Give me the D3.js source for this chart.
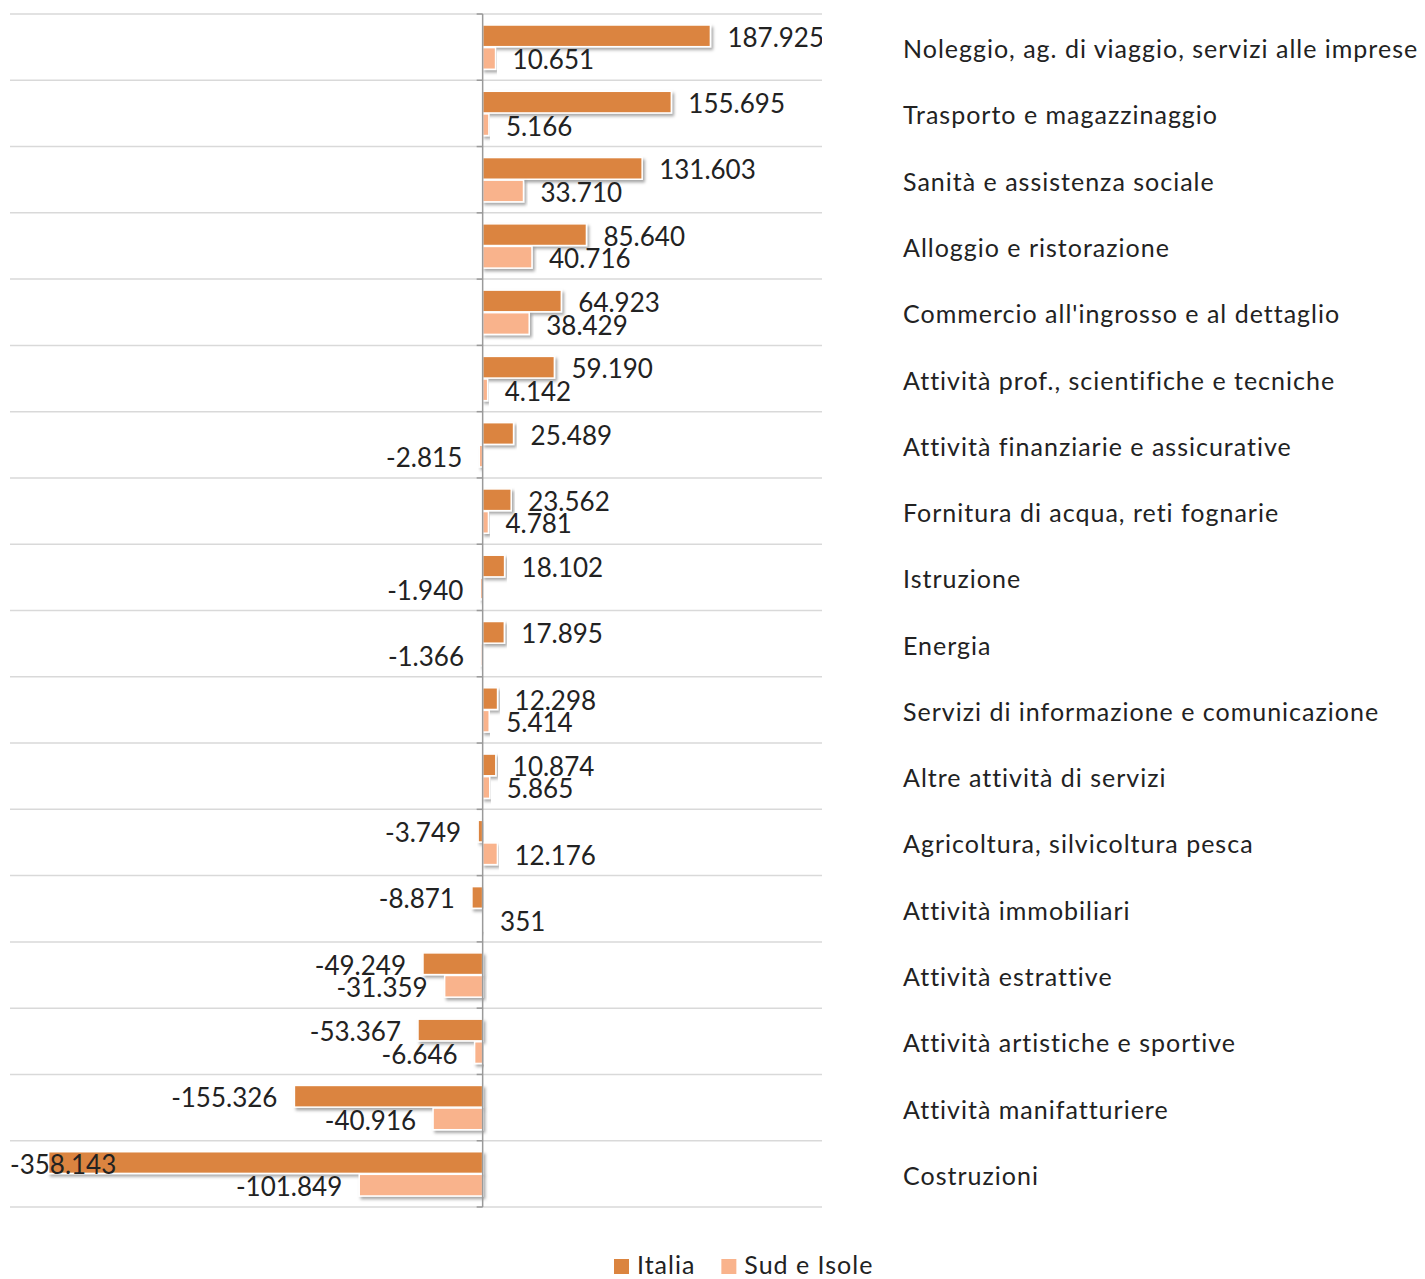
<!DOCTYPE html>
<html>
<head>
<meta charset="utf-8">
<script src="https://cdn.jsdelivr.net/npm/d3@7"></script>
<style>
  body { margin: 0; background: #fff; }
  svg { display: block; font-family: Lato, "Open Sans", sans-serif; }
</style>
</head>
<body>
<div id="chart"></div>
<script>
// Variazione occupati per settore: Italia vs Sud e Isole

const categories = [
  "Noleggio, ag. di viaggio, servizi alle imprese",
  "Trasporto e magazzinaggio",
  "Sanità e assistenza sociale",
  "Alloggio e ristorazione",
  "Commercio all'ingrosso e al dettaglio",
  "Attività prof., scientifiche e tecniche",
  "Attività finanziarie e assicurative",
  "Fornitura di acqua, reti fognarie",
  "Istruzione",
  "Energia",
  "Servizi di informazione e comunicazione",
  "Altre attività di servizi",
  "Agricoltura, silvicoltura pesca",
  "Attività immobiliari",
  "Attività estrattive",
  "Attività artistiche e sportive",
  "Attività manifatturiere",
  "Costruzioni"
];

const series = ["Italia", "Sud e Isole"];

const italia = [187925, 155695, 131603, 85640, 64923, 59190, 25489, 23562, 18102,
  17895, 12298, 10874, -3749, -8871, -49249, -53367, -155326, -358143];

const sud = [10651, 5166, 33710, 40716, 38429, 4142, -2815, 4781, -1940,
  -1366, 5414, 5865, 12176, 351, -31359, -6646, -40916, -101849];

const colors = ["#db843f", "#f9b38c"];

const width = 1425, height = 1279;
const plotLeft = 10, plotRight = 822, plotTop = 14, plotBottom = 1207;

const it = d3.formatLocale({ decimal: ",", thousands: ".", grouping: [3], currency: ["€", ""], minus: "-" });
const fmt = it.format(",d");

const data = categories.map((c, i) => ({ cat: c, values: [italia[i], sud[i]] }));

const x = d3.scaleLinear().domain([-390000, 280000]).range([plotLeft, plotRight]);
const y = d3.scaleBand().domain(categories).range([plotTop, plotBottom]);
const y1 = d3.scaleBand().domain(series).range([11, y.bandwidth() - 11]).paddingInner(0.04);

const svg = d3.select("#chart").append("svg")
  .attr("width", width)
  .attr("height", height);

const defs = svg.append("defs");
defs.append("filter")
  .attr("id", "shadow")
  .attr("x", "-10%").attr("y", "-30%").attr("width", "120%").attr("height", "170%")
  .append("feDropShadow")
  .attr("dx", 2).attr("dy", 2.5).attr("stdDeviation", 1.6)
  .attr("flood-color", "#000").attr("flood-opacity", 0.35);

defs.append("clipPath").attr("id", "plotclip")
  .append("rect")
  .attr("x", 0).attr("y", 0)
  .attr("width", plotRight).attr("height", height);

// gridlines on the band boundaries
const bounds = categories.map(c => y(c)).concat([plotBottom]);
svg.append("g")
  .selectAll("line")
  .data(bounds)
  .join("line")
  .attr("x1", plotLeft).attr("x2", plotRight)
  .attr("y1", d => d).attr("y2", d => d)
  .attr("stroke", "#d9d9d9")
  .attr("stroke-width", 1.5);

// bars
const rows = svg.append("g")
  .selectAll("g")
  .data(data)
  .join("g")
  .attr("transform", d => `translate(0,${y(d.cat)})`);

rows.selectAll("rect")
  .data(d => d.values.map((v, i) => ({ key: series[i], v, i })))
  .join("rect")
  .attr("x", d => x(Math.min(0, d.v)))
  .attr("y", d => y1(d.key))
  .attr("width", d => Math.max(1, Math.abs(x(d.v) - x(0))))
  .attr("height", y1.bandwidth())
  .attr("fill", d => colors[d.i])
  .attr("stroke", "#fff")
  .attr("stroke-width", 1.5)
  .attr("filter", "url(#shadow)");

// zero axis with ticks at the band boundaries
const axis = svg.append("g").attr("stroke", "#9a9a9a").attr("stroke-width", 1.5);
axis.append("line")
  .attr("x1", x(0)).attr("x2", x(0))
  .attr("y1", plotTop).attr("y2", plotBottom);
axis.selectAll("line.tick")
  .data(bounds)
  .join("line")
  .attr("class", "tick")
  .attr("x1", x(0) - 6).attr("x2", x(0))
  .attr("y1", d => d).attr("y2", d => d);

// data labels
const gap = 17;
const labels = svg.append("g")
  .attr("clip-path", "url(#plotclip)")
  .attr("font-size", 26)
  .attr("fill", "#222");

rows.each(function(d) {
  d.values.forEach((v, i) => {
    const cy = y(d.cat) + y1(series[i]) + y1.bandwidth() / 2 + 1;
    const t = labels.append("text")
      .attr("y", cy)
      .attr("dominant-baseline", "central")
      .text(fmt(v));
    if (v >= 0) {
      t.attr("x", x(v) + gap);
    } else {
      const w = t.node().getComputedTextLength();
      const xr = Math.max(plotLeft + w, x(v) - gap);
      t.attr("x", xr).attr("text-anchor", "end");
    }
  });
});

// category labels on the right
svg.append("g")
  .attr("font-size", 25)
  .attr("letter-spacing", 1)
  .attr("fill", "#222")
  .selectAll("text")
  .data(categories)
  .join("text")
  .attr("x", 903)
  .attr("y", d => y(d) + y.bandwidth() / 2 + 1)
  .attr("dominant-baseline", "central")
  .text(d => d);

// legend
const legend = svg.append("g").attr("font-size", 25).attr("letter-spacing", 1).attr("fill", "#222");
let lx = 614;
series.forEach((s, i) => {
  legend.append("rect")
    .attr("x", lx).attr("y", 1259)
    .attr("width", 15).attr("height", 15)
    .attr("fill", colors[i]);
  const t = legend.append("text")
    .attr("x", lx + 23).attr("y", 1264)
    .attr("dominant-baseline", "central")
    .text(s);
  lx += 23 + t.node().getComputedTextLength() + 26;
});
</script>
</body>
</html>
